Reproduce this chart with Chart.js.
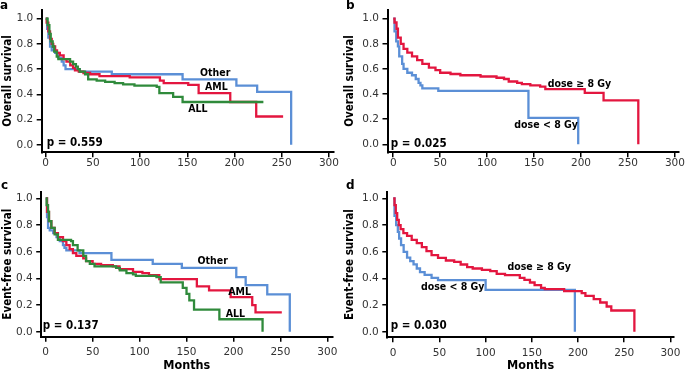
<!DOCTYPE html>
<html>
<head>
<meta charset="utf-8">
<script src="https://cdn.jsdelivr.net/npm/chart.js@4.4.1/dist/chart.umd.min.js"></script>
<style>
  body { margin: 0; background: #fff; }
  #wrap { position: relative; width: 685px; height: 374px; overflow: hidden; }
  canvas { position: absolute; }
  .tag { position: absolute; font: bold 12px "DejaVu Sans"; color: #000; }
</style>
</head>
<body>
<div id="wrap">
  <canvas id="pa" width="342" height="180" style="left:0;top:0"></canvas>
  <canvas id="pb" width="343" height="180" style="left:342px;top:0"></canvas>
  <canvas id="pc" width="342" height="192" style="left:0;top:182px"></canvas>
  <canvas id="pd" width="343" height="192" style="left:342px;top:182px"></canvas>
  <div class="tag" style="left:0;top:-2px">a</div>
  <div class="tag" style="left:346px;top:-2px">b</div>
  <div class="tag" style="left:1px;top:178px">c</div>
  <div class="tag" style="left:346px;top:178px">d</div>
</div>
<script>
// tick labels
const xTicks = [0, 50, 100, 150, 200, 250, 300];
const yTicks = [0, 0.2, 0.4, 0.6, 0.8, 1.0];

// a: overall survival by diagnosis (months, survival)
const aOtherT = [0, 1.5, 2.8, 4.6, 6.4, 10, 13.5, 17, 19, 21, 36, 70, 145, 202, 224, 260];
const aOtherS = [1, 0.92, 0.85, 0.78, 0.75, 0.73, 0.69, 0.66, 0.63, 0.60, 0.58, 0.56, 0.52, 0.47, 0.42, 0];
const aAmlT = [0, 1, 2.8, 4.6, 6.4, 8, 10, 12, 15, 19, 22, 26, 29, 31, 35, 40, 47, 57, 89, 121, 125, 151, 162, 195.5, 223, 251.5];
const aAmlS = [1, 0.97, 0.90, 0.84, 0.80, 0.78, 0.75, 0.73, 0.71, 0.68, 0.66, 0.63, 0.61, 0.59, 0.58, 0.57, 0.56, 0.545, 0.535, 0.51, 0.49, 0.475, 0.41, 0.34, 0.225, 0.225];
const aAllT = [0, 2, 3.9, 5.3, 7.4, 9, 11.7, 13.4, 25.8, 29, 32, 34, 36, 41.7, 45, 54, 63, 73, 82, 94, 117.6, 120.4, 135, 145, 230.6];
const aAllS = [1, 0.95, 0.88, 0.82, 0.78, 0.74, 0.70, 0.68, 0.66, 0.64, 0.62, 0.60, 0.58, 0.56, 0.52, 0.51, 0.50, 0.49, 0.48, 0.47, 0.46, 0.41, 0.38, 0.34, 0.34];

// b: overall survival by dose
const bHighT = [0, 1.4, 3.5, 5, 8, 11, 15, 20, 25.5, 31, 38, 45, 50, 61, 71.5, 93, 110, 118, 123, 132, 137, 146, 156.5, 162, 204, 224, 261];
const bHighS = [1, 0.97, 0.92, 0.85, 0.80, 0.76, 0.73, 0.70, 0.67, 0.64, 0.61, 0.59, 0.57, 0.56, 0.55, 0.54, 0.53, 0.52, 0.50, 0.49, 0.48, 0.47, 0.46, 0.44, 0.41, 0.35, 0];
const bLowT = [0, 1.4, 3.2, 5, 6.4, 9.5, 11, 15, 20, 24, 27, 29, 31, 48, 144, 197];
const bLowS = [1, 0.90, 0.82, 0.78, 0.70, 0.64, 0.60, 0.57, 0.55, 0.52, 0.49, 0.47, 0.445, 0.425, 0.21, 0];

// c: event-free survival by diagnosis
const cOtherT = [0, 1.4, 2.5, 4.3, 8, 11.5, 15, 18.4, 20, 22, 36, 70, 114, 145, 203, 213, 236, 260];
const cOtherS = [1, 0.86, 0.78, 0.76, 0.74, 0.71, 0.68, 0.65, 0.63, 0.61, 0.59, 0.54, 0.51, 0.48, 0.41, 0.35, 0.28, 0];
const cAmlT = [0, 1.4, 3.5, 6, 9.5, 13, 18.4, 22, 25.5, 29, 32.6, 40, 43, 50, 59, 71.5, 78.6, 93, 103, 110, 121, 161, 174, 197, 220, 223.5, 251.5];
const cAmlS = [1, 0.90, 0.83, 0.78, 0.74, 0.71, 0.68, 0.65, 0.62, 0.59, 0.57, 0.55, 0.53, 0.51, 0.50, 0.49, 0.47, 0.45, 0.44, 0.425, 0.395, 0.34, 0.31, 0.26, 0.20, 0.145, 0.145];
const cAllT = [0, 1, 2.5, 3.5, 6, 9.5, 13, 27, 29, 34, 40, 43, 47, 52, 75, 79, 86, 93, 96, 118, 122.5, 146, 150, 153, 158, 185, 231];
const cAllS = [1, 0.95, 0.90, 0.83, 0.78, 0.73, 0.69, 0.68, 0.65, 0.61, 0.57, 0.53, 0.51, 0.49, 0.48, 0.46, 0.44, 0.43, 0.42, 0.41, 0.37, 0.33, 0.285, 0.235, 0.166, 0.094, 0];

// d: event-free survival by dose
const dHighT = [0, 1.4, 2.8, 4.3, 6, 8, 11, 15, 20, 25.5, 31, 36, 41.5, 48.5, 57, 66, 73, 80, 86, 96, 105, 112, 121, 137, 142, 148, 153, 160, 164, 185, 204, 208, 217, 224, 231, 236, 261];
const dHighS = [1, 0.95, 0.89, 0.84, 0.80, 0.77, 0.74, 0.72, 0.69, 0.665, 0.635, 0.605, 0.575, 0.555, 0.535, 0.525, 0.505, 0.485, 0.475, 0.465, 0.455, 0.435, 0.425, 0.405, 0.39, 0.37, 0.35, 0.33, 0.32, 0.305, 0.29, 0.27, 0.245, 0.22, 0.19, 0.16, 0];
const dLowT = [0, 1.4, 3.2, 5, 6.4, 8.5, 11.3, 15, 18.4, 22, 25.5, 29, 34, 41.5, 48.5, 100, 196.6];
const dLowS = [1, 0.87, 0.80, 0.75, 0.70, 0.65, 0.60, 0.556, 0.53, 0.506, 0.475, 0.447, 0.427, 0.405, 0.388, 0.314, 0];

const RED = '#e3163f', BLUE = '#5b8fd6', GREEN = '#2f8a3b';
const BOLD = 'bold 10.5px "DejaVu Sans Condensed", "DejaVu Sans"';
const PFONT = 'bold 11.5px "DejaVu Sans Condensed", "DejaVu Sans"';

// writes the curve labels and p value in data coordinates
function notes(list) {
  return {
    id: 'notes',
    afterDatasetsDraw(chart) {
      const { ctx, scales: { x, y } } = chart;
      ctx.save();
      ctx.fillStyle = '#000';
      ctx.textAlign = 'left';
      ctx.textBaseline = 'middle';
      list.forEach(n => {
        ctx.font = n.font || BOLD;
        ctx.fillText(n.text, x.getPixelForValue(n.x), y.getPixelForValue(n.y));
      });
      ctx.restore();
    }
  };
}

function panel(id, box, yTitle, showMonths, curves, list) {
  const ctx = document.getElementById(id).getContext('2d');
  new Chart(ctx, {
    type: 'line',
    data: {
      datasets: curves.map(c => ({
        data: c.t.map((t, i) => ({ x: t, y: c.s[i] })),
        borderColor: c.color,
        borderWidth: 2.3,
        stepped: true,
        pointRadius: 0,
        fill: false
      }))
    },
    options: {
      responsive: false,
      animation: false,
      devicePixelRatio: 1,
      layout: { padding: { left: 0, top: box.top, right: box.right, bottom: 0 } },
      plugins: { legend: { display: false }, tooltip: { enabled: false } },
      scales: {
        x: {
          type: 'linear', min: box.xMin, max: box.xMax,
          afterBuildTicks: s => { s.ticks = xTicks.map(v => ({ value: v })); },
          afterFit: s => { s.height = box.xh; },
          border: { display: true, color: '#000', width: 2 },
          grid: { drawOnChartArea: false, drawTicks: true, tickLength: 5, color: '#000', lineWidth: 1.5 },
          ticks: { color: '#333', padding: box.xPad, font: { family: 'DejaVu Sans', size: 10.5 }, maxRotation: 0 },
          title: { display: showMonths, text: 'Months', color: '#000', padding: { top: 0, bottom: 1 },
                   font: { family: '"DejaVu Sans Condensed", "DejaVu Sans"', size: 12.5, weight: 'bold' } }
        },
        y: {
          type: 'linear', min: box.yMin, max: box.yMax,
          afterBuildTicks: s => { s.ticks = yTicks.map(v => ({ value: v })); },
          afterFit: s => { s.width = box.yw; },
          border: { display: true, color: '#000', width: 2 },
          grid: { drawOnChartArea: false, drawTicks: true, tickLength: 5, color: '#000', lineWidth: 1.5 },
          ticks: { color: '#333', padding: 3.5, font: { family: 'DejaVu Sans', size: 10.5 }, callback: v => v.toFixed(1) },
          title: { display: true, text: yTitle, color: '#000', padding: { top: 1, bottom: 0 },
                   font: { family: '"DejaVu Sans Condensed", "DejaVu Sans"', size: 11.5, weight: 'bold' } }
        }
      }
    },
    plugins: [notes(list)]
  });
}

panel('pa', { top: 4, right: 8, yw: 41.7, xh: 27.7, xMin: -4.24, xMax: 305.4, yMin: -0.059, yMax: 1.071, xPad: 0 },
  'Overall survival', false,
  [{ t: aAllT, s: aAllS, color: GREEN }, { t: aAmlT, s: aAmlS, color: RED }, { t: aOtherT, s: aOtherS, color: BLUE }],
  [{ text: 'Other', x: 163.5, y: 0.566 }, { text: 'AML', x: 168.7, y: 0.453 }, { text: 'ALL', x: 151, y: 0.284 },
   { text: 'p = 0.559', x: 1, y: 0.015, font: PFONT }]);

panel('pb', { top: 4, right: 5, yw: 45.5, xh: 27.7, xMin: -6.1, xMax: 303.7, yMin: -0.0635, yMax: 1.071, xPad: 0 },
  'Overall survival', false,
  [{ t: bHighT, s: bHighS, color: RED }, { t: bLowT, s: bLowS, color: BLUE }],
  [{ text: 'dose \u2265 8 Gy', x: 164.5, y: 0.48 }, { text: 'dose < 8 Gy', x: 129, y: 0.149 },
   { text: 'p = 0.025', x: -2.7, y: 0.0, font: PFONT }]);

panel('pc', { top: 8, right: 8, yw: 41.2, xh: 37.3, xMin: -4.8, xMax: 305.4, yMin: -0.037, yMax: 1.05, xPad: 4.5 },
  'Event-free survival', true,
  [{ t: cAllT, s: cAllS, color: GREEN }, { t: cAmlT, s: cAmlS, color: RED }, { t: cOtherT, s: cOtherS, color: BLUE }],
  [{ text: 'Other', x: 161.7, y: 0.526 }, { text: 'AML', x: 194.5, y: 0.296 }, { text: 'ALL', x: 191.7, y: 0.133 },
   { text: 'p = 0.137', x: -3.2, y: 0.042, font: PFONT }]);

panel('pd', { top: 8, right: 5, yw: 45.3, xh: 36.7, xMin: -6.4, xMax: 303.7, yMin: -0.041, yMax: 1.05, xPad: 4.5 },
  'Event-free survival', true,
  [{ t: dHighT, s: dHighS, color: RED }, { t: dLowT, s: dLowS, color: BLUE }],
  [{ text: 'dose \u2265 8 Gy', x: 123.6, y: 0.484 }, { text: 'dose < 8 Gy', x: 30, y: 0.331 },
   { text: 'p = 0.030', x: -2.8, y: 0.042, font: PFONT }]);
</script>
</body>
</html>
